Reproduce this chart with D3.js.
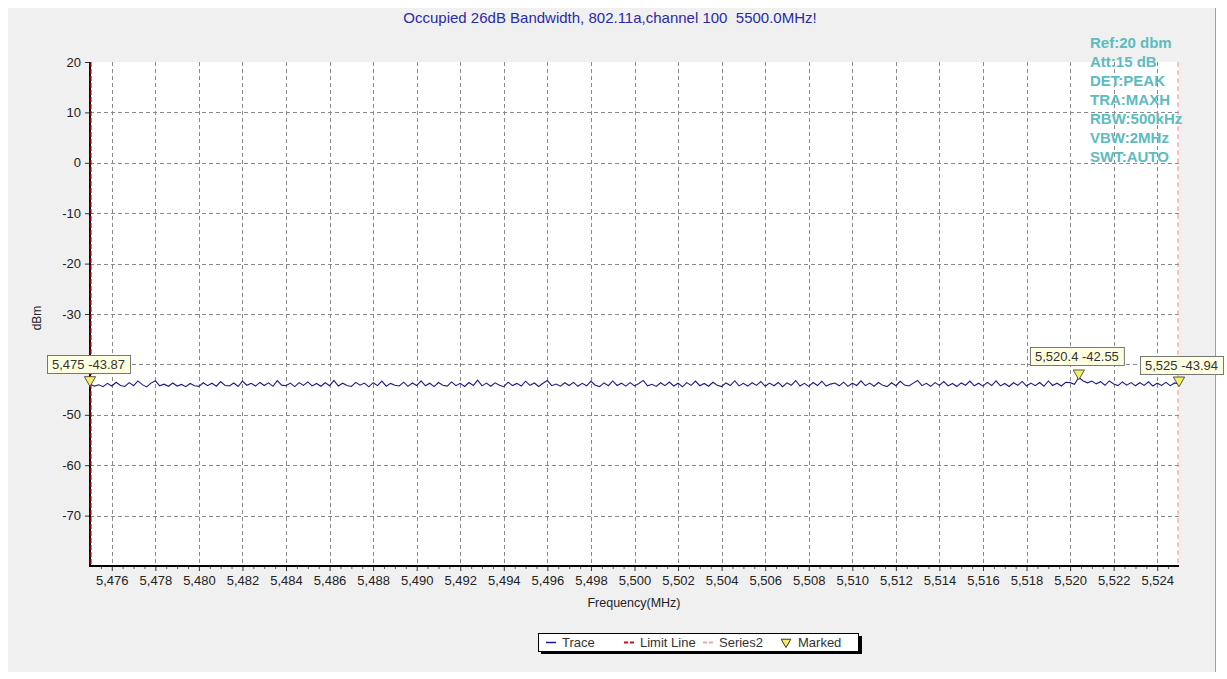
<!DOCTYPE html>
<html><head><meta charset="utf-8">
<script src="https://cdn.jsdelivr.net/npm/d3@7"></script>
<style>body{margin:0;background:#fff}svg{display:block;font-family:"Liberation Sans",Arial,sans-serif}</style>
</head><body><svg id="c" width="1227" height="679"></svg>
<script>
const title = "Occupied 26dB Bandwidth, 802.11a,channel 100  5500.0MHz!";
const infoLines = ["Ref:20 dbm","Att:15 dB","DET:PEAK","TRA:MAXH","RBW:500kHz","VBW:2MHz","SWT:AUTO"];
const freqStart = 5475, freqStep = 0.2;
const traceValues = [
-43.87,-44.31,-44.05,-44.42,-43.76,-44.28,-43.54,-44.19,-44.37,-43.62,
-44.23,-43.28,-44.02,-44.46,-43.71,-43.25,-44.25,-43.93,-44.34,-43.68,
-44.29,-43.97,-44.41,-43.79,-44.22,-44.36,-43.64,-44.21,-43.73,-44.32,
-43.41,-44.18,-44.27,-43.69,-44.39,-43.32,-44.14,-43.75,-44.30,-43.58,
-44.20,-43.66,-44.35,-43.23,-44.11,-44.24,-43.72,-44.40,-43.61,-44.16,
-43.47,-44.26,-43.78,-44.33,-43.65,-44.22,-43.19,-44.29,-43.74,-44.18,
-44.38,-43.56,-44.13,-43.70,-44.45,-43.63,-44.21,-43.30,-44.32,-43.77,
-44.15,-44.28,-43.52,-44.36,-43.68,-44.19,-43.26,-44.24,-43.73,-44.41,
-43.60,-44.12,-44.30,-43.48,-44.21,-43.75,-44.37,-43.59,-44.17,-43.14,
-44.26,-43.71,-44.34,-43.66,-44.14,-44.43,-43.53,-44.20,-43.77,-44.29,
-43.33,-44.16,-43.69,-44.38,-43.74,-43.21,-44.23,-43.90,-44.31,-43.64,
-44.19,-43.57,-44.35,-43.76,-44.25,-43.36,-44.13,-44.40,-43.67,-44.22,
-43.28,-44.18,-43.72,-44.32,-43.61,-44.27,-43.79,-43.17,-44.24,-43.94,
-44.36,-43.65,-44.21,-43.50,-44.29,-43.73,-44.44,-43.62,-44.16,-43.31,
-44.23,-43.78,-44.33,-43.55,-44.12,-44.39,-43.68,-44.20,-43.24,-44.26,
-43.75,-44.30,-43.63,-44.17,-43.39,-44.34,-43.71,-44.24,-43.58,-44.42,
-43.66,-44.15,-43.20,-44.28,-43.77,-44.37,-43.60,-44.19,-43.34,-44.31,
-43.91,-43.69,-44.25,-43.53,-44.36,-43.74,-44.18,-43.27,-44.22,-43.70,
-44.33,-43.59,-44.16,-44.41,-43.64,-44.23,-43.36,-44.10,-44.29,-43.72,
-43.18,-44.21,-43.76,-44.35,-43.62,-44.17,-43.41,-44.27,-43.79,-44.38,
-43.67,-44.13,-43.32,-44.24,-43.73,-44.32,-43.57,-44.20,-43.25,-44.26,
-43.78,-44.39,-43.65,-44.15,-43.38,-44.30,-43.71,-44.22,-43.60,-44.34,
-43.29,-44.18,-43.74,-44.28,-43.54,-43.62,-43.95,-42.55,-43.28,-43.65,
-43.31,-43.86,-43.42,-44.14,-43.27,-43.90,-44.21,-43.48,-44.12,-43.61,
-44.25,-43.63,-44.16,-43.44,-44.29,-43.72,-44.18,-43.56,-44.22,-43.68,
-43.94];
const markerFreqs = [5475, 5520.4, 5525];
const markerValues = [-43.87, -42.55, -43.94];
const markerLabels = ["5,475 -43.87", "5,520.4 -42.55", "5,525 -43.94"];
const yTicks = [20,10,0,-10,-20,-30,-40,-50,-60,-70];
const xTicks = d3.range(5476, 5525, 2);
const limitFreq = 5475, series2Freq = 5525;
const legendItems = ["Trace","Limit Line","Series2","Marked"];

const svg = d3.select("#c");
const x = d3.scaleLinear().domain([5475,5525]).range([90,1179]);
const y = d3.scaleLinear().domain([-80,20]).range([566,62]);
const fmt = d3.format(",");

// panel
svg.append("rect").attr("x",8).attr("y",8).attr("width",1207).attr("height",664).attr("fill","#f0f0f0");
svg.append("line").attr("x1",1215.5).attr("x2",1215.5).attr("y1",8).attr("y2",672).attr("stroke","#a0a0a0").attr("stroke-width",1);
// plot area
svg.append("rect").attr("x",x(5475)).attr("y",y(20)).attr("width",x(5525)-x(5475)).attr("height",y(-80)-y(20)).attr("fill","#fff");

// grid
const grid = svg.append("g").attr("stroke","#8a8a8a").attr("stroke-dasharray","4,3").attr("stroke-width",1);
xTicks.forEach(t=>grid.append("line").attr("x1",Math.round(x(t))+0.5).attr("x2",Math.round(x(t))+0.5).attr("y1",y(20)).attr("y2",y(-80)));
yTicks.filter(t=>t<20).forEach(t=>grid.append("line").attr("y1",Math.round(y(t))+0.5).attr("y2",Math.round(y(t))+0.5).attr("x1",x(5475)).attr("x2",x(5525)));

// title
svg.append("text").attr("x",610).attr("y",23).attr("text-anchor","middle").attr("font-size",15).attr("fill","#2a2aa8").style("white-space","pre").text(title);

// axes
const xAxis = d3.axisBottom(x).tickValues(xTicks).tickFormat(d=>fmt(d)).tickSize(5).tickPadding(5);
const gx = svg.append("g").attr("transform",`translate(0,${y(-80)})`).call(xAxis);
gx.select(".domain").remove();
gx.selectAll("text").attr("font-size",13).attr("fill","#222").attr("font-family","Liberation Sans, Arial");
gx.selectAll("line").attr("stroke","#333");
const xMinor = d3.axisBottom(x).tickValues(d3.range(5475.5,5525,0.5).filter(v=>Math.abs(v%2)>1e-9)).tickFormat("").tickSize(3);
const gxm = svg.append("g").attr("transform",`translate(0,${y(-80)})`).call(xMinor);
gxm.select(".domain").remove();
gxm.selectAll("line").attr("stroke","#555");

// -40 label is hidden behind the marker box in the reference
const yAxis = d3.axisLeft(y).tickValues(yTicks).tickFormat(d=>d===-40?"":String(d)).tickSize(5).tickPadding(4);
const gy = svg.append("g").attr("transform",`translate(${x(5475)},0)`).call(yAxis);
gy.select(".domain").remove();
gy.selectAll("text").attr("font-size",13).attr("fill","#222").attr("font-family","Liberation Sans, Arial");
gy.selectAll("line").attr("stroke","#333");

// axis lines
svg.append("line").attr("x1",x(5475)).attr("x2",x(5525)).attr("y1",y(-80)).attr("y2",y(-80)).attr("stroke","#000").attr("stroke-width",2);
svg.append("line").attr("x1",x(5475)).attr("x2",x(5475)).attr("y1",y(20)).attr("y2",y(-80)+1).attr("stroke","#000").attr("stroke-width",2);
// limit line
svg.append("line").attr("x1",x(limitFreq)+0.5).attr("x2",x(limitFreq)+0.5).attr("y1",y(20)).attr("y2",y(-80)).attr("stroke","#8b0000").attr("stroke-width",2).attr("stroke-dasharray","5,2");
// series2
svg.append("line").attr("x1",x(series2Freq)-1).attr("x2",x(series2Freq)-1).attr("y1",y(20)).attr("y2",y(-80)).attr("stroke","#f08a8a").attr("stroke-width",1).attr("stroke-dasharray","5,3");

// axis titles
svg.append("text").attr("x",634).attr("y",607).attr("text-anchor","middle").attr("font-size",12.5).attr("fill","#222").text("Frequency(MHz)");
svg.append("text").attr("transform","translate(41,318) rotate(-90)").attr("text-anchor","middle").attr("font-size",12).attr("fill","#222").text("dBm");

// trace
const line = d3.line().x((d,i)=>x(freqStart+i*freqStep)).y(d=>y(d));
svg.append("path").datum(traceValues).attr("d",line).attr("fill","none").attr("stroke","#1a1a8a").attr("stroke-width",1.1);

// info text
const info = svg.append("text").attr("font-size",15).attr("font-weight","bold").attr("fill","#5cbcc0");
infoLines.forEach((s,i)=>info.append("tspan").attr("x",1090).attr("y",48+i*19).text(s));

// markers
const tri = d3.symbol().type(d3.symbolTriangle).size(55);
markerFreqs.forEach((f,i)=>{
  svg.append("path").attr("d",tri).attr("transform",`translate(${x(f)},${y(markerValues[i])-4}) rotate(180)`)
    .attr("fill","#f5f060").attr("stroke","#555").attr("stroke-width",1);
});
const boxPos = [[47,355],[1030,347],[1140,356]];
markerLabels.forEach((s,i)=>{
  const g = svg.append("g").attr("transform",`translate(${boxPos[i][0]},${boxPos[i][1]})`);
  const t = g.append("text").attr("x",5).attr("y",14).attr("font-size",13).attr("fill","#333").text(s);
  const w = t.node().getComputedTextLength()+10;
  g.insert("rect","text").attr("x",0.5).attr("y",0.5).attr("width",w).attr("height",18).attr("fill","#ffffe1").attr("stroke","#777");
});

// legend
const lg = svg.append("g").attr("transform","translate(538,633)");
lg.append("rect").attr("x",3).attr("y",3).attr("width",321).attr("height",18).attr("fill","#000");
lg.append("rect").attr("x",0.5).attr("y",0.5).attr("width",320).attr("height",18).attr("fill","#fff").attr("stroke","#000");
const lx = [8, 86, 165, 244];
legendItems.forEach((s,i)=>{
  const g = lg.append("g").attr("transform",`translate(${lx[i]},0)`);
  if(i===0) g.append("line").attr("x1",0).attr("x2",10).attr("y1",9.5).attr("y2",9.5).attr("stroke","#1a1a8a").attr("stroke-width",1.5);
  if(i===1) g.append("line").attr("x1",0).attr("x2",10).attr("y1",9.5).attr("y2",9.5).attr("stroke","#d01010").attr("stroke-width",2).attr("stroke-dasharray","4,2");
  if(i===2) g.append("line").attr("x1",0).attr("x2",10).attr("y1",9.5).attr("y2",9.5).attr("stroke","#f4a8a8").attr("stroke-width",2).attr("stroke-dasharray","4,2");
  if(i===3) g.append("path").attr("d",d3.symbol().type(d3.symbolTriangle).size(40)).attr("transform","translate(4,9) rotate(180)").attr("fill","#f5f060").attr("stroke","#333");
  g.append("text").attr("x",16).attr("y",14).attr("font-size",13).attr("fill","#333").text(s);
});
</script></body></html>
